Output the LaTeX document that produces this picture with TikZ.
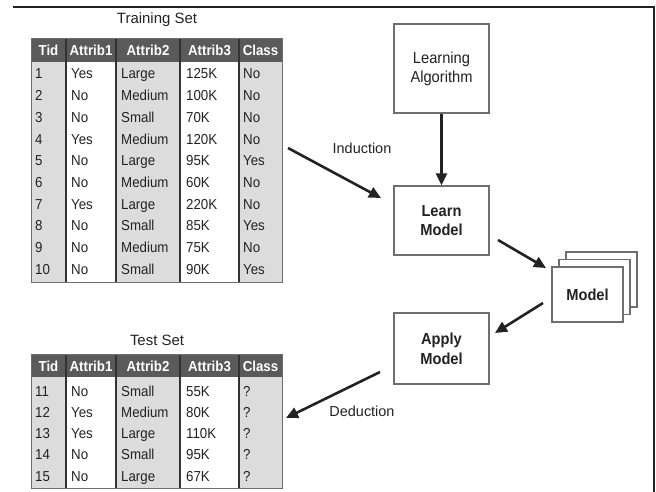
\documentclass[tikz,border=0pt]{standalone}
\usepackage{fontspec}
\setmainfont{Liberation Sans}
\newfontfamily\narrowsans[FakeStretch=0.92]{Liberation Sans}
\usetikzlibrary{arrows.meta}
\definecolor{hdr}{HTML}{5A5A5A}
\definecolor{cellgray}{HTML}{DCDCDC}
\definecolor{ink}{HTML}{222222}
\definecolor{rule}{HTML}{333333}
\definecolor{edge}{HTML}{6E6E6E}

\tikzset{
  cell/.style={anchor=base west, inner sep=0pt, text=ink, font=\narrowsans\fontsize{14.5}{16}\selectfont},
  head/.style={anchor=base, inner sep=0pt, text=white, font=\narrowsans\fontsize{14.5}{16}\selectfont\bfseries},
  settitle/.style={inner sep=0pt, text=ink, font=\fontsize{15}{17}\selectfont},
  procbox/.style={draw=edge, line width=1.2bp, fill=white, align=center, text=ink, inner sep=0pt},
  flow/.style={line width=2.6bp, draw=ink, -{Triangle[length=12bp,width=11bp]}},
  lbl/.style={text=ink, font=\fontsize{14.5}{17}\selectfont, inner sep=0pt},
  divider/.style={draw=rule, line width=1.4bp},
  outline/.style={draw=edge, line width=1bp}
}

\begin{document}
\begin{tikzpicture}[x=1bp, y=-1bp]
  \useasboundingbox (0,0) rectangle (656,492);

  % page frame (top and right edges only)
  \draw[ink, line width=1.5bp] (13,7) -- (654,7) -- (654,492);

  % ---------- training set table ----------
  \node[settitle] (tr-title) at (157,20) {Training Set};
  \fill[cellgray] (31,62) rectangle (66,282);
  \fill[cellgray] (116,62) rectangle (180,282);
  \fill[cellgray] (239,62) rectangle (282,282);
  \fill[hdr] (31,39) rectangle (282,62);
  \foreach \x in {66,116,180,239} \draw[divider] (\x,39) -- (\x,282);
  \draw[outline] (31,39) rectangle (282,282);
  \foreach \lab/\cx [count=\j] in {Tid/48.5, Attrib1/91, Attrib2/148, Attrib3/209.5, Class/260.5}
    \node[head] (tr-h\j) at (\cx,56) {\lab};
  \foreach \t/\a/\b/\c/\k [count=\i] in {
      1/Yes/Large/125K/No, 2/No/Medium/100K/No, 3/No/Small/70K/No,
      4/Yes/Medium/120K/No, 5/No/Large/95K/Yes, 6/No/Medium/60K/No,
      7/Yes/Large/220K/No, 8/No/Small/85K/Yes, 9/No/Medium/75K/No,
      10/No/Small/90K/Yes} {
    \pgfmathsetmacro{\ry}{79+(\i-1)*21.7}
    \node[cell] (tr-\i-1) at (35,\ry) {\t};
    \node[cell] (tr-\i-2) at (71,\ry) {\a};
    \node[cell] (tr-\i-3) at (121,\ry) {\b};
    \node[cell] (tr-\i-4) at (186,\ry) {\c};
    \node[cell] (tr-\i-5) at (243,\ry) {\k};
  }

  % ---------- test set table ----------
  \node[settitle] (te-title) at (157,340) {Test Set};
  \fill[cellgray] (31,377) rectangle (66,488);
  \fill[cellgray] (116,377) rectangle (180,488);
  \fill[cellgray] (239,377) rectangle (282,488);
  \fill[hdr] (31,354) rectangle (282,377);
  \foreach \x in {66,116,180,239} \draw[divider] (\x,354) -- (\x,488);
  \draw[outline] (31,354) rectangle (282,488);
  \foreach \lab/\cx [count=\j] in {Tid/48.5, Attrib1/91, Attrib2/148, Attrib3/209.5, Class/260.5}
    \node[head] (te-h\j) at (\cx,371) {\lab};
  \foreach \t/\a/\b/\c/\k [count=\i] in {
      11/No/Small/55K/?, 12/Yes/Medium/80K/?, 13/Yes/Large/110K/?,
      14/No/Small/95K/?, 15/No/Large/67K/?} {
    \pgfmathsetmacro{\ry}{396+(\i-1)*21.3}
    \node[cell] (te-\i-1) at (35,\ry) {\t};
    \node[cell] (te-\i-2) at (71,\ry) {\a};
    \node[cell] (te-\i-3) at (121,\ry) {\b};
    \node[cell] (te-\i-4) at (186,\ry) {\c};
    \node[cell] (te-\i-5) at (243,\ry) {\k};
  }

  % ---------- process boxes ----------
  \node[procbox, minimum width=95bp, minimum height=89bp,
        font=\narrowsans\fontsize{16}{19}\selectfont] (alg) at (441.5,68.5) {Learning\\Algorithm};
  \node[procbox, minimum width=95bp, minimum height=69bp,
        font=\narrowsans\fontsize{16}{19}\selectfont\bfseries] (learn) at (441.5,220.5) {Learn\\Model};
  \node[procbox, minimum width=95bp, minimum height=71bp,
        font=\narrowsans\fontsize{16}{20}\selectfont\bfseries] (apply) at (441.5,348.5) {Apply\\Model};

  % stacked model sheets
  \node[procbox, minimum width=71bp, minimum height=55bp] (model-c) at (601.5,279.5) {};
  \node[procbox, minimum width=71bp, minimum height=55bp] (model-b) at (594.5,287) {};
  \node[procbox, minimum width=71bp, minimum height=55bp,
        font=\narrowsans\fontsize{16}{18}\selectfont\bfseries] (model) at (587.5,294.5) {Model};

  % ---------- connectors ----------
  \coordinate (ind-s) at (288,148);
  \coordinate (ind-e) at (381,198);
  \coordinate (lm-s) at (498,240);
  \coordinate (lm-e) at (546,268);
  \coordinate (am-s) at (543,303);
  \coordinate (am-e) at (495,333);
  \coordinate (ded-s) at (380,372);
  \coordinate (ded-e) at (286,418);

  \draw[flow] (ind-s) -- (ind-e);
  \draw[flow] (alg) -- (learn);
  \draw[flow] (lm-s) -- (lm-e);
  \draw[flow] (am-s) -- (am-e);
  \draw[flow] (ded-s) -- (ded-e);

  \node[lbl] (ind-lbl) at (362,148) {Induction};
  \node[lbl] (ded-lbl) at (362,411) {Deduction};
\end{tikzpicture}
\end{document}
